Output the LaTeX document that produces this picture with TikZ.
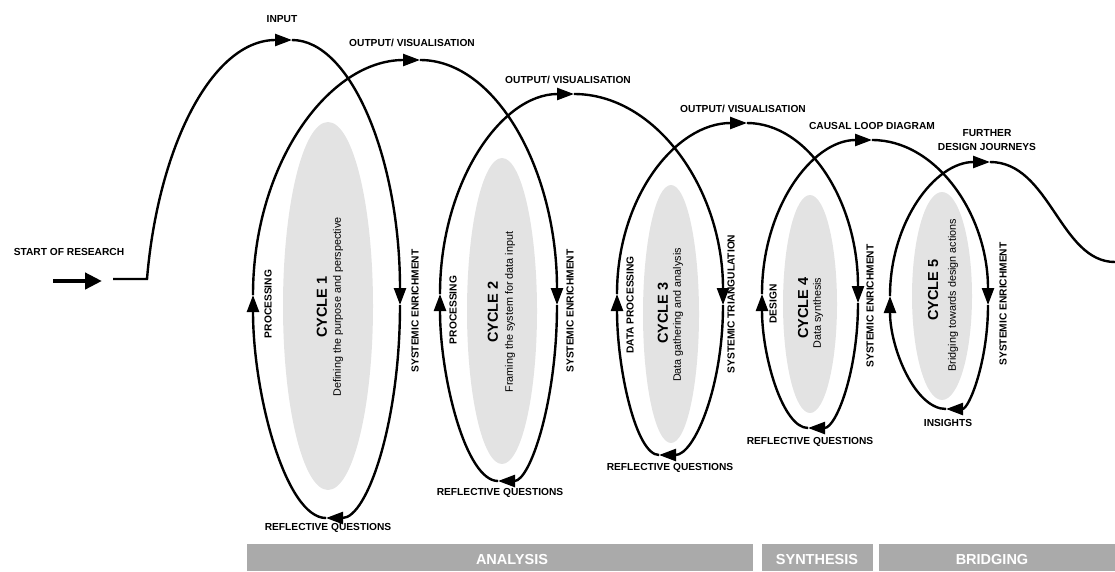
\documentclass[tikz,border=0pt]{standalone}
\usepackage{fontspec}
\setmainfont{Liberation Sans}
\usetikzlibrary{arrows.meta,shapes.geometric}
\definecolor{blobgray}{HTML}{E3E3E3}
\definecolor{bargray}{HTML}{AAAAAA}
\tikzset{
  flow/.style={line width=2.4pt,-{Triangle[length=17pt,width=12pt]}},
  lbl/.style={font=\fontsize{10.2}{14}\selectfont\bfseries,inner sep=0pt},
  vlbl/.style={lbl,rotate=90},
  cyc/.style={font=\fontsize{14.5}{16}\selectfont\bfseries,rotate=90,inner sep=0pt},
  sub/.style={font=\fontsize{10.8}{12}\selectfont,rotate=90,inner sep=0pt},
  blob/.style={ellipse,fill=blobgray,draw=none,inner sep=0pt},
  phase/.style={fill=bargray,draw=none,inner sep=0pt,anchor=north west,minimum height=27pt},
  phaselbl/.style={font=\fontsize{14.5}{16}\selectfont\bfseries,text=white,inner sep=0pt}
}
\begin{document}
\begin{tikzpicture}[x=1pt,y=-1pt]
\useasboundingbox (0,0) rectangle (1115,571);

% grey cores of the cycles
\node[blob,minimum width=90pt,minimum height=368pt] (core1) at (328,306) {};
\node[blob,minimum width=70pt,minimum height=306pt] (core2) at (502,311) {};
\node[blob,minimum width=56pt,minimum height=258pt] (core3) at (671,314) {};
\node[blob,minimum width=54pt,minimum height=218pt] (core4) at (810,304) {};
\node[blob,minimum width=60pt,minimum height=208pt] (core5) at (942,296) {};

% turning points of the journey
\coordinate (lead) at (113,279);
\coordinate (rise) at (147,279);
\coordinate (inputtop) at (292,40);
\coordinate (se1) at (400,305);
\coordinate (rq1) at (326,518);
\coordinate (pr1) at (253,295);
\coordinate (out1) at (420,60);
\coordinate (se2) at (557,305);
\coordinate (rq2) at (498,481);
\coordinate (pr2) at (440,294);
\coordinate (out2) at (574,94);
\coordinate (st3) at (723,305);
\coordinate (rq3) at (659,455);
\coordinate (dp3) at (617,294);
\coordinate (out3) at (747,123);
\coordinate (se4) at (858,303);
\coordinate (rq4) at (808,428);
\coordinate (de4) at (762,294);
\coordinate (cld) at (872,140);
\coordinate (se5) at (988,305);
\coordinate (ins5) at (946,409);
\coordinate (br5) at (890,296);
\coordinate (fdj) at (990,162);
\coordinate (exit) at (1115,262);

% start arrow
\coordinate (starttail) at (53,281);
\coordinate (starthead) at (102,281);
\draw[line width=4.5pt,-{Triangle[length=17pt,width=16pt]}] (starttail) -- (starthead);

% the spiral
\draw[flow] (lead) -- (rise) .. controls (158,147) and (212,40) .. (inputtop);
\draw[flow] (inputtop) .. controls (351,40) and (400,159) .. (se1);
\draw[flow] (se1) .. controls (400,423) and (367,518) .. (rq1);
\draw[flow] (rq1) .. controls (286,518) and (253,395) .. (pr1);
\draw[flow] (pr1) .. controls (253,165) and (328,60) .. (out1);
\draw[flow] (out1) .. controls (496,60) and (557,170) .. (se2);
\draw[flow] (se2) .. controls (557,402) and (530,481) .. (rq2);
\draw[flow] (rq2) .. controls (466,481) and (440,378) .. (pr2);
\draw[flow] (pr2) .. controls (440,183) and (501,94) .. (out2);
\draw[flow] (out2) .. controls (656,94) and (723,189) .. (st3);
\draw[flow] (st3) .. controls (723,388) and (694,455) .. (rq3);
\draw[flow] (rq3) .. controls (636,455) and (617,369) .. (dp3);
\draw[flow] (dp3) .. controls (617,197) and (676,123) .. (out3);
\draw[flow] (out3) .. controls (808,123) and (858,201) .. (se4);
\draw[flow] (se4) .. controls (858,372) and (836,428) .. (rq4);
\draw[flow] (rq4) .. controls (783,428) and (762,357) .. (de4);
\draw[flow] (de4) .. controls (762,208) and (812,140) .. (cld);
\draw[flow] (cld) .. controls (936,140) and (988,214) .. (se5);
\draw[flow] (se5) .. controls (988,362) and (969,409) .. (ins5);
\draw[flow] (ins5) .. controls (915,409) and (890,348) .. (br5);
\draw[flow] (br5) .. controls (890,222) and (935,162) .. (fdj);
\draw[line width=2.4pt] (fdj) .. controls (1050,162) and (1060,262) .. (exit);

% labels along the way
\node[lbl] (startlbl) at (69,252) {START OF RESEARCH};
\node[lbl] (inputlbl) at (282,19) {INPUT};
\node[lbl] (out1lbl) at (412,43) {OUTPUT/ VISUALISATION};
\node[lbl] (out2lbl) at (568,80) {OUTPUT/ VISUALISATION};
\node[lbl] (out3lbl) at (743,109) {OUTPUT/ VISUALISATION};
\node[lbl] (cldlbl) at (872,126) {CAUSAL LOOP DIAGRAM};
\node[lbl,align=center] (fdjlbl) at (987,140) {FURTHER\\DESIGN JOURNEYS};

\node[lbl] (rq1lbl) at (328,528) {REFLECTIVE QUESTIONS};
\node[lbl] (rq2lbl) at (500,493) {REFLECTIVE QUESTIONS};
\node[lbl] (rq3lbl) at (670,468) {REFLECTIVE QUESTIONS};
\node[lbl] (rq4lbl) at (810,442) {REFLECTIVE QUESTIONS};
\node[lbl] (ins5lbl) at (948,423) {INSIGHTS};

\node[vlbl] (pr1lbl) at (268,304) {PROCESSING};
\node[vlbl] (se1lbl) at (415,311) {SYSTEMIC ENRICHMENT};
\node[vlbl] (pr2lbl) at (453,310) {PROCESSING};
\node[vlbl] (se2lbl) at (570,311) {SYSTEMIC ENRICHMENT};
\node[vlbl] (dp3lbl) at (630,305) {DATA PROCESSING};
\node[vlbl] (st3lbl) at (731,304) {SYSTEMIC TRIANGULATION};
\node[vlbl] (de4lbl) at (773,304) {DESIGN};
\node[vlbl] (se4lbl) at (870,306) {SYSTEMIC ENRICHMENT};
\node[vlbl] (se5lbl) at (1003,304) {SYSTEMIC ENRICHMENT};

% cycle titles
\node[cyc] (cyc1) at (322,307) {CYCLE 1};
\node[sub] (sub1) at (338,307) {Defining the purpose and perspective};
\node[cyc] (cyc2) at (493,312) {CYCLE 2};
\node[sub] (sub2) at (510,312) {Framing the system for data input};
\node[cyc] (cyc3) at (663,313) {CYCLE 3};
\node[sub] (sub3) at (678,315) {Data gathering and analysis};
\node[cyc] (cyc4) at (803,308) {CYCLE 4};
\node[sub] (sub4) at (818,313) {Data synthesis};
\node[cyc] (cyc5) at (933,290) {CYCLE 5};
\node[sub] (sub5) at (953,295) {Bridging towards design actions};

% phases
\node[phase,minimum width=506pt] (analysisbar) at (247,544) {};
\node[phase,minimum width=111pt] (synthesisbar) at (762,544) {};
\node[phase,minimum width=236pt] (bridgingbar) at (879,544) {};
\node[phaselbl] (analysislbl) at (512,559) {ANALYSIS};
\node[phaselbl] (synthesislbl) at (817,559) {SYNTHESIS};
\node[phaselbl] (bridginglbl) at (992,559) {BRIDGING};
\end{tikzpicture}
\end{document}
